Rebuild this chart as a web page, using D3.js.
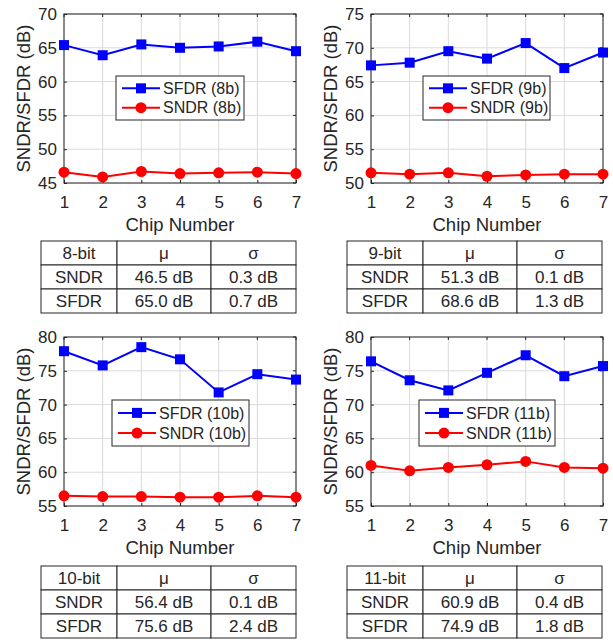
<!DOCTYPE html>
<html>
<head>
<meta charset="utf-8">
<script src="https://cdn.jsdelivr.net/npm/d3@7"></script>
<style>
  body { margin: 0; background: #fff; }
  text { font-family: "Liberation Sans", Arial, sans-serif; fill: #262626; }
</style>
</head>
<body>
<script>
// chip numbers on the x axis
const chips = [1, 2, 3, 4, 5, 6, 7];

// measured values per resolution (dB)
const sfdr8  = [65.4, 63.9, 65.5, 65.0, 65.2, 65.9, 64.5];
const sndr8  = [46.6, 45.9, 46.7, 46.4, 46.5, 46.6, 46.4];
const sfdr9  = [67.4, 67.8, 69.5, 68.4, 70.7, 67.0, 69.3];
const sndr9  = [51.5, 51.3, 51.5, 51.0, 51.2, 51.3, 51.3];
const sfdr10 = [77.9, 75.8, 78.5, 76.7, 71.8, 74.5, 73.7];
const sndr10 = [56.5, 56.4, 56.4, 56.3, 56.3, 56.5, 56.3];
const sfdr11 = [76.4, 73.6, 72.1, 74.7, 77.3, 74.2, 75.7];
const sndr11 = [61.0, 60.2, 60.7, 61.1, 61.6, 60.7, 60.6];

// y ranges
const yDomains = [[45, 70], [50, 75], [55, 80], [55, 80]];

// summary tables
const tableHead = [["8-bit", "μ", "σ"], ["9-bit", "μ", "σ"], ["10-bit", "μ", "σ"], ["11-bit", "μ", "σ"]];
const tableSndr = [["SNDR", "46.5 dB", "0.3 dB"], ["SNDR", "51.3 dB", "0.1 dB"], ["SNDR", "56.4 dB", "0.1 dB"], ["SNDR", "60.9 dB", "0.4 dB"]];
const tableSfdr = [["SFDR", "65.0 dB", "0.7 dB"], ["SFDR", "68.6 dB", "1.3 dB"], ["SFDR", "75.6 dB", "2.4 dB"], ["SFDR", "74.9 dB", "1.8 dB"]];

const bits = ["8b", "9b", "10b", "11b"];
const sfdrAll = [sfdr8, sfdr9, sfdr10, sfdr11];
const sndrAll = [sndr8, sndr9, sndr10, sndr11];

const svg = d3.select("body").append("svg")
  .attr("width", 613).attr("height", 640);

// panel placement
const lefts = [64, 371, 64, 371];
const tops = [14, 14, 337, 337];
const pw = 232, ph = 169;
const legendBox = [[116, 76, 128, 44], [423, 76, 127, 44], [112, 400, 137, 46], [419, 400, 136, 46]];
const tableBox = [[41, 241], [347, 241], [41, 566], [347, 566]];
const colW = [76, 94, 85];
const rowH = 24;

function drawPanel(i) {
  const g = svg.append("g").attr("transform", `translate(${lefts[i]},${tops[i]})`);
  const x = d3.scaleLinear().domain([1, 7]).range([0, pw]);
  const y = d3.scaleLinear().domain(yDomains[i]).range([ph, 0]);
  const yt = d3.range(yDomains[i][0], yDomains[i][1] + 1, 5);

  // grid
  g.selectAll(".gx").data(chips).enter().append("line")
    .attr("x1", d => x(d)).attr("x2", d => x(d)).attr("y1", 0).attr("y2", ph)
    .attr("stroke", "#dadada").attr("stroke-width", 1);
  g.selectAll(".gy").data(yt).enter().append("line")
    .attr("y1", d => y(d)).attr("y2", d => y(d)).attr("x1", 0).attr("x2", pw)
    .attr("stroke", "#dadada").attr("stroke-width", 1);

  // axes, ticks pointing in
  const xa = g.append("g").attr("transform", `translate(0,${ph})`)
    .call(d3.axisBottom(x).tickValues(chips).tickFormat(d3.format("d")).tickSizeInner(-3).tickSizeOuter(0).tickPadding(10));
  const ya = g.append("g")
    .call(d3.axisLeft(y).tickValues(yt).tickSizeInner(-3).tickSizeOuter(0).tickPadding(7));
  [xa, ya].forEach(a => {
    a.select(".domain").remove();
    a.selectAll("line").attr("stroke", "#262626");
    a.selectAll("text").attr("font-size", 17).attr("fill", "#262626")
      .attr("font-family", "'Liberation Sans', Arial, sans-serif");
  });
  xa.selectAll("text").attr("dy", "0.9em");
  // top/right ticks
  g.selectAll(".tt").data(chips).enter().append("line")
    .attr("x1", d => x(d)).attr("x2", d => x(d)).attr("y1", 0).attr("y2", 3).attr("stroke", "#262626");
  g.selectAll(".tr").data(yt).enter().append("line")
    .attr("y1", d => y(d)).attr("y2", d => y(d)).attr("x1", pw).attr("x2", pw - 3).attr("stroke", "#262626");
  g.append("rect").attr("width", pw).attr("height", ph)
    .attr("fill", "none").attr("stroke", "#262626").attr("stroke-width", 1);

  // labels
  g.append("text").attr("x", pw / 2).attr("y", ph + 48).attr("text-anchor", "middle")
    .attr("font-size", 18.5).text("Chip Number");
  g.append("text").attr("transform", `translate(-34,${ph / 2}) rotate(-90)`)
    .attr("text-anchor", "middle").attr("font-size", 18.5).text("SNDR/SFDR (dB)");

  const line = d3.line().x((d, j) => x(chips[j])).y(d => y(d));
  // SFDR
  g.append("path").datum(sfdrAll[i]).attr("d", line)
    .attr("fill", "none").attr("stroke", "#0000ff").attr("stroke-width", 2);
  g.selectAll(".sq").data(sfdrAll[i]).enter().append("rect")
    .attr("x", (d, j) => x(chips[j]) - 5).attr("y", d => y(d) - 5)
    .attr("width", 10).attr("height", 10).attr("fill", "#0000ff");
  // SNDR
  g.append("path").datum(sndrAll[i]).attr("d", line)
    .attr("fill", "none").attr("stroke", "#ff0000").attr("stroke-width", 2);
  g.selectAll(".ci").data(sndrAll[i]).enter().append("circle")
    .attr("cx", (d, j) => x(chips[j])).attr("cy", d => y(d))
    .attr("r", 5.5).attr("fill", "#ff0000");

  // legend
  const [lx, ly, lw, lh] = legendBox[i];
  const lg = svg.append("g").attr("transform", `translate(${lx},${ly})`);
  lg.append("rect").attr("width", lw).attr("height", lh)
    .attr("fill", "#fff").attr("stroke", "#262626").attr("stroke-width", 1);
  const ent = [["SFDR (" + bits[i] + ")", "#0000ff", "sq"], ["SNDR (" + bits[i] + ")", "#ff0000", "ci"]];
  ent.forEach((e, k) => {
    const cy = lh * (k === 0 ? 0.28 : 0.72);
    lg.append("line").attr("x1", 6).attr("x2", 44).attr("y1", cy).attr("y2", cy)
      .attr("stroke", e[1]).attr("stroke-width", 2);
    if (e[2] === "sq") {
      lg.append("rect").attr("x", 20).attr("y", cy - 5).attr("width", 10).attr("height", 10).attr("fill", e[1]);
    } else {
      lg.append("circle").attr("cx", 25).attr("cy", cy).attr("r", 5.5).attr("fill", e[1]);
    }
    lg.append("text").attr("x", 47).attr("y", cy).attr("dy", "0.36em")
      .attr("font-size", 16).text(e[0]);
  });
}

function drawTable(i) {
  const [tx, ty] = tableBox[i];
  const tg = svg.append("g").attr("transform", `translate(${tx},${ty})`);
  const rows = [tableHead[i], tableSndr[i], tableSfdr[i]];
  const cx = [0, colW[0], colW[0] + colW[1]];
  rows.forEach((r, ri) => {
    r.forEach((c, ci) => {
      tg.append("rect").attr("x", cx[ci]).attr("y", ri * rowH)
        .attr("width", colW[ci]).attr("height", rowH)
        .attr("fill", "#fff").attr("stroke", "#262626").attr("stroke-width", 1);
      tg.append("text").attr("x", cx[ci] + colW[ci] / 2).attr("y", ri * rowH + rowH / 2)
        .attr("dy", "0.36em").attr("text-anchor", "middle").attr("font-size", 17).text(c);
    });
  });
}

for (let i = 0; i < 4; i++) { drawPanel(i); drawTable(i); }
</script>
</body>
</html>
